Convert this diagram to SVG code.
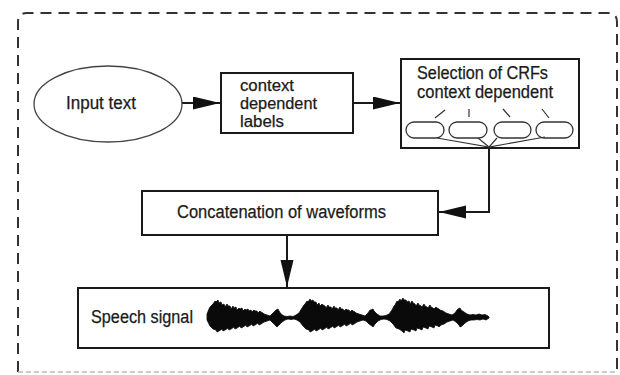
<svg xmlns="http://www.w3.org/2000/svg" width="620" height="375" viewBox="0 0 620 375">
<style>
.box{fill:#fff;stroke:#1a1a1a;stroke-width:2}
.cap{fill:#fff;stroke:#333;stroke-width:1.3}
.t{font-family:"Liberation Sans",Arial,sans-serif;font-size:18px;fill:#1a1a1a;stroke:#1a1a1a;stroke-width:0.25}
.s{font-size:16px}
.ln{fill:none;stroke:#1a1a1a;stroke-width:2}
.thin{fill:none;stroke:#333;stroke-width:1.2}
.border{fill:none;stroke:#333;stroke-width:2;stroke-dasharray:11 7}
</style>
<defs>
<marker id="ah" markerUnits="userSpaceOnUse" markerWidth="28" markerHeight="14" refX="27" refY="6.5" orient="auto">
<path d="M0,0 L27,6.5 L0,13 Z" fill="#111"/>
</marker>
</defs>
<rect width="620" height="375" fill="#fff"/>
<g id="frame">
<path class="border" d="M18,372 L18,22 Q18,13 27,13 L608,13 Q617,13 617,22 L617,372"/>
<line x1="18" y1="372" x2="617" y2="372" stroke="#bbb" stroke-width="1.5" stroke-dasharray="5 3"/>
</g>
<g id="connectors">
<line class="ln" x1="182" y1="103" x2="220" y2="103" marker-end="url(#ah)"/>
<line class="ln" x1="353" y1="103" x2="400" y2="103" marker-end="url(#ah)"/>
<polyline class="ln" points="489,148 489,212 439,212" marker-end="url(#ah)"/>
<line class="ln" x1="287" y1="235" x2="287" y2="287" marker-end="url(#ah)"/>
</g>
<g id="input-text">
<ellipse cx="108" cy="104" rx="74" ry="38" fill="#fff" stroke="#444" stroke-width="1.3"/>
<text class="t" x="66" y="109" textLength="70" lengthAdjust="spacingAndGlyphs">Input text</text>
</g>
<g id="context-labels">
<rect class="box" x="221" y="73" width="132" height="60"/>
<text class="t s" x="240" y="91" textLength="54" lengthAdjust="spacingAndGlyphs">context</text>
<text class="t s" x="240" y="109" textLength="77" lengthAdjust="spacingAndGlyphs">dependent</text>
<text class="t s" x="240" y="127" textLength="44" lengthAdjust="spacingAndGlyphs">labels</text>
</g>
<g id="selection-crfs">
<rect class="box" x="401" y="59" width="178" height="89"/>
<text class="t" x="417" y="79" textLength="131" lengthAdjust="spacingAndGlyphs">Selection of CRFs</text>
<text class="t" x="417" y="98" textLength="136" lengthAdjust="spacingAndGlyphs">context dependent</text>
<line class="thin" x1="435" y1="118" x2="445" y2="110"/>
<line class="thin" x1="469" y1="109" x2="469" y2="117"/>
<line class="thin" x1="503" y1="109" x2="510" y2="117"/>
<line class="thin" x1="542" y1="109" x2="549" y2="118"/>
<rect class="cap" x="406" y="122" width="38" height="16" rx="8"/>
<rect class="cap" x="449" y="122" width="38" height="16" rx="8"/>
<rect class="cap" x="494" y="122" width="37" height="16" rx="8"/>
<rect class="cap" x="536" y="122" width="37" height="16" rx="8"/>
<polyline class="thin" points="437,138 489,147 478,138"/>
<polyline class="thin" points="497,138 489,147 545,137"/>
</g>
<g id="concatenation">
<rect class="box" x="142" y="191" width="296" height="44"/>
<text class="t" x="177" y="218" textLength="209" lengthAdjust="spacingAndGlyphs">Concatenation of waveforms</text>
</g>
<g id="speech-signal">
<rect class="box" x="78" y="288" width="471" height="60"/>
<text class="t" x="91" y="323" textLength="102" lengthAdjust="spacingAndGlyphs">Speech signal</text>
<path fill="#0a0a0a" stroke="#0a0a0a" stroke-width="0.8" stroke-linejoin="round" d="M207,314 L209,309 L210,307 L212,305 L213,304 L215,301 L216,302 L218,300 L219,303 L221,302 L222,305 L224,304 L225,307 L227,304 L228,306 L230,306 L231,309 L233,306 L234,308 L236,307 L237,310 L239,308 L240,309 L242,308 L243,311 L245,309 L246,310 L248,309 L249,311 L251,310 L252,312 L254,310 L255,311 L257,311 L258,313 L260,311 L261,312 L263,313 L264,314 L267,315 L270,316 L273,313 L275,311 L276,310 L278,309 L279,311 L281,314 L284,316 L287,316.5 L290,316 L293,316.5 L296,315 L299,313 L302,308 L304,305 L305,304 L307,301 L308,302 L310,299 L311,301 L313,300 L314,302 L316,302 L317,305 L319,303 L320,306 L322,304 L323,305 L325,306 L326,308 L328,305 L329,307 L331,307 L332,309 L334,306 L335,308 L337,308 L338,310 L340,307 L341,309 L343,309 L344,311 L346,309 L347,310 L349,310 L350,312 L352,310 L353,311 L355,312 L356,313 L359,314 L362,315 L365,316 L368,313 L370,310 L371,310 L373,309 L374,311 L377,314 L380,316 L383,316 L386,315.5 L389,314 L392,310 L394,306 L395,305 L397,301 L398,302 L400,299 L401,301 L403,298 L404,300 L406,300 L407,302 L409,301 L410,304 L412,301 L413,303 L415,304 L416,306 L418,303 L419,305 L421,306 L422,307 L424,304 L425,306 L427,307 L428,308 L430,305 L431,307 L433,308 L434,309 L436,307 L437,308 L439,309 L440,310 L443,311 L446,313 L449,314 L452,315 L455,313 L457,310 L458,309 L460,308 L461,310 L464,312 L467,314 L470,315 L473,314.5 L476,315 L479,314 L482,315 L485,314.5 L488,316 L489,317 L489,318 L486,320 L483,319 L480,320 L477,319.5 L474,320 L471,320 L468,321 L465,323 L462,326 L460,327 L459,325 L456,322 L453,320 L450,321 L447,322 L444,324 L441,325 L439,327 L438,326 L435,325 L434,328 L432,327 L429,326 L428,329 L426,328 L423,327 L422,330 L420,329 L417,328 L416,331 L414,330 L411,329 L410,332 L408,331 L405,330 L404,333 L402,331 L399,329 L396,328 L393,324 L390,321 L387,319.5 L384,319 L381,319.5 L378,321 L375,324 L373,327 L372,326 L369,324 L366,321 L363,320 L360,321 L357,322 L354,324 L352,325 L351,323 L348,325 L346,326 L345,324 L342,326 L340,327 L339,325 L336,327 L334,328 L333,326 L330,328 L328,329 L327,327 L324,329 L322,330 L321,328 L318,330 L316,331 L315,329 L312,331 L310,332 L309,330 L306,329 L303,326 L300,322 L297,320 L294,319 L291,319.5 L288,319 L285,320 L282,322 L279,325 L277,327 L276,326 L273,323 L270,320 L267,321 L264,322 L261,324 L259,325 L258,323 L255,325 L253,326 L252,324 L249,326 L247,327 L246,325 L243,327 L241,328 L240,326 L237,328 L235,329 L234,327 L231,329 L229,330 L228,328 L225,330 L223,331 L222,329 L219,331 L217,332 L216,330 L213,329 L210,326 L207,320 Z"/>
</g>
</svg>
